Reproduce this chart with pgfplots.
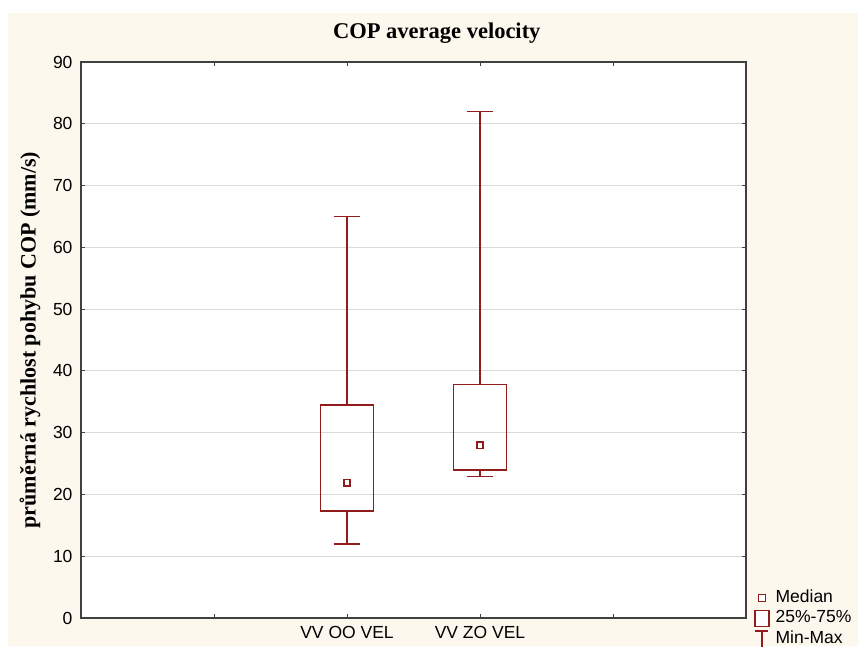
\documentclass[border=0pt]{standalone}
\usepackage{fontspec}
\setmainfont{Liberation Sans}
\newfontfamily\serifb{Liberation Serif}
\usepackage{pgfplots}
\pgfplotsset{compat=1.18}
\definecolor{boxred}{RGB}{145,28,28}
\definecolor{cream}{RGB}{253,248,238}
\definecolor{axgray}{RGB}{64,64,64}
\definecolor{gridgray}{RGB}{218,218,218}
\begin{document}
\begin{tikzpicture}[x=1pt,y=1pt]
\fill[white] (-81,-28) rectangle (777,618);
\fill[cream] (-73,-28) rectangle (777,605);
\begin{axis}[
  at={(0,0)}, anchor=south west,
  scale only axis, width=665pt, height=556pt,
  xmin=0, xmax=5, ymin=0, ymax=90,
  xtick={1,2,3,4}, xticklabels={,VV OO VEL,VV ZO VEL,},
  ytick={0,10,...,90},
  tick align=inside, major tick length=4pt,
  tick style={axgray, line width=1pt},
  axis line style={axgray, line width=1.5pt},
  axis background/.style={fill=white},
  ymajorgrids, grid style={gridgray, line width=1.2pt},
  /pgf/number format/assume math mode=true,
  tick label style={font=\fontsize{17.5}{20}\selectfont, text=black},
  yticklabel style={xshift=-5pt},
  xticklabel style={yshift=-5pt},
  title={COP average velocity},
  title style={font=\serifb\bfseries\fontsize{22.5}{25}\selectfont, at={(axis description cs:0.535,1.0306)}, anchor=base},
  ylabel={průměrná rychlost pohybu COP (mm/s)},
  ylabel style={font=\serifb\bfseries\fontsize{22}{25}\selectfont, at={(axis description cs:-0.0767,0.5)}, anchor=center},
  legend style={draw=none, fill=none, at={(axis description cs:1.012,-0.002)}, anchor=west,
    inner sep=0pt, outer sep=0pt, row sep=3pt, column sep=5pt,
    nodes={inner sep=1pt, text height=12pt, text depth=3pt, font=\fontsize{17.5}{20}\selectfont}},
  legend cell align=left,
]
% group 1: VV OO VEL
\addplot[boxred, line width=1.6pt, forget plot] coordinates {(1.8,17.3) (2.2,17.3) (2.2,34.5) (1.8,34.5) (1.8,17.3)};
\addplot[boxred, line width=1.6pt, forget plot] coordinates {(2,34.5) (2,65)};
\addplot[boxred, line width=1.6pt, forget plot] coordinates {(1.9,65) (2.1,65)};
\addplot[boxred, line width=1.6pt, forget plot] coordinates {(2,17.3) (2,12)};
\addplot[boxred, line width=1.6pt, forget plot] coordinates {(1.9,12) (2.1,12)};
% group 2: VV ZO VEL
\addplot[boxred, line width=1.6pt, forget plot] coordinates {(2.8,24.0) (3.2,24.0) (3.2,37.8) (2.8,37.8) (2.8,24.0)};
\addplot[boxred, line width=1.6pt, forget plot] coordinates {(3,37.8) (3,82)};
\addplot[boxred, line width=1.6pt, forget plot] coordinates {(2.9,82) (3.1,82)};
\addplot[boxred, line width=1.6pt, forget plot] coordinates {(3,24.0) (3,22.9)};
\addplot[boxred, line width=1.6pt, forget plot] coordinates {(2.9,22.9) (3.1,22.9)};
% medians
\addplot[only marks, mark=square*, mark size=3.2pt, mark options={draw=boxred, fill=white, line width=1.5pt}, forget plot]
  coordinates {(2,21.9) (3,27.95)};
\addlegendimage{legend image code/.code={\draw[boxred, line width=1.4pt, fill=white] (3.5pt,-3.5pt) rectangle (10.5pt,3.5pt);}}
\addlegendentry{Median}
\addlegendimage{legend image code/.code={\draw[boxred, line width=1.6pt, fill=white] (0pt,-8pt) rectangle (14pt,8pt);}}
\addlegendentry{25\%-75\%}
\addlegendimage{legend image code/.code={\draw[boxred, line width=1.6pt] (0.5pt,7.5pt) -- (13.5pt,7.5pt) (7pt,7.5pt) -- (7pt,-9pt);}}
\addlegendentry{Min-Max}
\end{axis}
\pgfresetboundingbox
\useasboundingbox (-81,-28) rectangle (777,618);
\end{tikzpicture}
\end{document}
